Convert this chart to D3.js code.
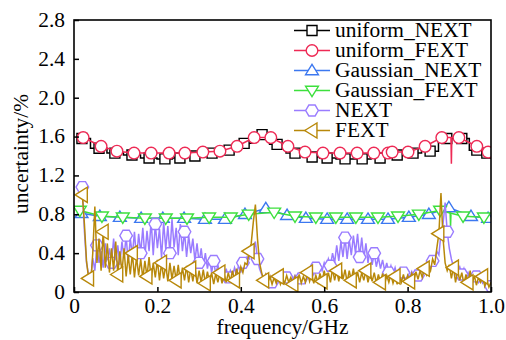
<!DOCTYPE html>
<html><head><meta charset="utf-8">
<script src="https://cdn.jsdelivr.net/npm/d3@7"></script>
<style>
html,body{margin:0;padding:0;background:#fff;}
svg{display:block;}
text{font-family:"Liberation Serif","Times New Roman",serif;fill:#000;}
</style></head>
<body>
<svg id="chart" width="506" height="340"></svg>
<script>
// ---------------- data ----------------
const xTickValues = [0, 0.2, 0.4, 0.6, 0.8, 1.0];
const xTickLabels = ["0", "0.2", "0.4", "0.6", "0.8", "1.0"];
const yTickValues = [0, 0.4, 0.8, 1.2, 1.6, 2.0, 2.4, 2.8];
const yTickLabels = ["0", "0.4", "0.8", "1.2", "1.6", "2.0", "2.4", "2.8"];

const seriesNames = ["uniform_NEXT", "uniform_FEXT", "Gaussian_NEXT", "Gaussian_FEXT", "NEXT", "FEXT"];

// uniform_NEXT (black squares, step line)
const uniformNextFreq = [0.019,0.060,0.098,0.139,0.180,0.218,0.254,0.290,0.331,0.372,0.408,0.451,0.487,0.530,0.571,0.607,0.650,0.691,0.734,0.775,0.813,0.854,0.894,0.930,0.966,0.990];
const uniformNextVal  = [1.58,1.48,1.43,1.41,1.38,1.37,1.38,1.40,1.43,1.46,1.53,1.62,1.52,1.43,1.39,1.38,1.37,1.37,1.38,1.41,1.43,1.45,1.58,1.58,1.46,1.43];

// uniform_FEXT (red circles)
const uniformFextFreq = [0.022,0.065,0.103,0.144,0.185,0.228,0.266,0.309,0.350,0.391,0.432,0.472,0.513,0.554,0.597,0.638,0.679,0.719,0.753,0.763,0.801,0.842,0.882,0.923,0.966,0.993];
const uniformFextVal  = [1.59,1.50,1.45,1.43,1.43,1.43,1.43,1.44,1.45,1.50,1.59,1.59,1.50,1.44,1.43,1.43,1.43,1.43,1.43,1.44,1.44,1.50,1.59,1.59,1.50,1.44];
const uniformFextSpikeFreq = [0.904,0.905,0.906];
const uniformFextSpikeVal  = [1.59,1.32,1.59];

// Gaussian_NEXT (blue up-triangles)
const gaussNextFreq = [0.018,0.062,0.110,0.161,0.213,0.264,0.314,0.362,0.410,0.460,0.511,0.556,0.607,0.655,0.705,0.753,0.803,0.851,0.899,0.952,0.993];
const gaussNextVal  = [0.81,0.78,0.77,0.76,0.76,0.76,0.75,0.75,0.80,0.86,0.79,0.76,0.75,0.75,0.75,0.75,0.77,0.80,0.87,0.78,0.76];

// Gaussian_FEXT (green down-triangles)
const gaussFextFreq = [0.014,0.067,0.117,0.170,0.220,0.271,0.324,0.376,0.419,0.480,0.530,0.580,0.628,0.676,0.729,0.777,0.827,0.878,0.933,0.983];
const gaussFextVal  = [0.84,0.78,0.77,0.76,0.76,0.76,0.77,0.77,0.80,0.82,0.78,0.77,0.77,0.77,0.77,0.78,0.80,0.84,0.78,0.77];
const gaussFextSpikeFreq = [0.902,0.903,0.904];
const gaussFextSpikeVal  = [0.82,0.68,0.80];

// NEXT / FEXT (dense measured curves, 0.02 .. 1.00 GHz every 5 MHz)
const denseFreq = d3.range(197).map(i => +(0.02 + 0.005 * i).toFixed(3));
const nextVal = [
1.08,0.62,0.30,0.18,0.12,0.35,0.22,0.48,0.30,0.42,0.25,0.50,0.28,0.45,0.30,0.55,0.32,0.48,0.28,0.52,
0.35,0.58,0.30,0.55,0.38,0.62,0.33,0.60,0.40,0.66,0.36,0.63,0.42,0.74,0.38,0.70,0.45,0.65,0.35,0.72,
0.44,0.68,0.40,0.75,0.46,0.66,0.38,0.70,0.42,0.62,0.36,0.58,0.40,0.55,0.32,0.50,0.30,0.45,0.26,0.40,
0.24,0.36,0.20,0.32,0.18,0.28,0.16,0.26,0.14,0.24,0.15,0.22,0.16,0.25,0.18,0.28,0.20,0.30,0.26,0.36,
0.34,0.46,0.40,0.52,0.34,0.24,0.18,0.14,0.18,0.12,0.16,0.10,0.15,0.11,0.17,0.12,0.16,0.10,0.15,0.12,
0.18,0.13,0.17,0.12,0.19,0.14,0.20,0.15,0.22,0.16,0.24,0.18,0.25,0.20,0.28,0.22,0.30,0.24,0.34,0.27,
0.40,0.30,0.48,0.32,0.52,0.36,0.56,0.34,0.54,0.38,0.58,0.40,0.60,0.36,0.56,0.34,0.50,0.30,0.44,0.28,
0.40,0.26,0.36,0.24,0.33,0.22,0.30,0.20,0.27,0.18,0.25,0.16,0.22,0.15,0.20,0.14,0.19,0.15,0.21,0.16,
0.22,0.17,0.24,0.18,0.26,0.20,0.28,0.24,0.32,0.30,0.42,0.38,0.60,0.70,0.92,0.62,0.45,0.34,0.26,0.30,
0.22,0.26,0.18,0.24,0.15,0.20,0.13,0.18,0.12,0.16,0.10,0.14,0.09,0.12,0.08,0.10,0.06];
const fextVal = [
1.00,0.70,0.32,0.14,0.08,0.40,0.88,0.30,0.55,0.22,0.62,0.25,0.50,0.20,0.45,0.22,0.52,0.18,0.42,0.20,
0.45,0.16,0.38,0.18,0.40,0.15,0.36,0.17,0.34,0.14,0.32,0.16,0.36,0.13,0.30,0.15,0.33,0.12,0.30,0.14,
0.28,0.11,0.30,0.13,0.27,0.12,0.28,0.10,0.25,0.12,0.27,0.10,0.24,0.11,0.25,0.09,0.22,0.10,0.23,0.09,
0.21,0.10,0.20,0.08,0.19,0.10,0.20,0.09,0.18,0.10,0.20,0.11,0.22,0.12,0.24,0.15,0.26,0.20,0.30,0.28,
0.42,0.50,0.72,0.90,0.55,0.30,0.20,0.12,0.18,0.10,0.16,0.08,0.15,0.09,0.16,0.08,0.14,0.09,0.17,0.10,
0.15,0.08,0.16,0.10,0.18,0.09,0.16,0.10,0.20,0.11,0.18,0.09,0.17,0.10,0.19,0.11,0.22,0.12,0.20,0.10,
0.24,0.12,0.22,0.11,0.25,0.13,0.23,0.10,0.22,0.12,0.24,0.11,0.21,0.10,0.20,0.12,0.22,0.10,0.19,0.11,
0.20,0.09,0.18,0.10,0.19,0.08,0.17,0.10,0.18,0.09,0.16,0.08,0.17,0.10,0.18,0.09,0.17,0.11,0.19,0.12,
0.21,0.13,0.22,0.15,0.24,0.18,0.28,0.22,0.34,0.28,0.45,0.60,1.02,0.55,0.30,0.22,0.28,0.14,0.25,0.10,
0.22,0.12,0.20,0.08,0.18,0.10,0.22,0.09,0.17,0.07,0.15,0.10,0.16,0.06,0.12,0.05,0.10];

// ---------------- drawing ----------------
const PL = 74, PR = 491, PT = 20, PB = 292;
const x = d3.scaleLinear().domain([0, 1]).range([PL, PR]);
const y = d3.scaleLinear().domain([0, 2.8]).range([PB, PT]);

const colors = {
  uniform_NEXT: "#000000",
  uniform_FEXT: "#ee2a55",
  Gaussian_NEXT: "#3c78f0",
  Gaussian_FEXT: "#3de03d",
  NEXT: "#9a7cff",
  FEXT: "#b8880a"
};

const svg = d3.select("#chart");
svg.append("defs").append("clipPath").attr("id", "plotclip")
  .append("rect").attr("x", PL).attr("y", PT).attr("width", PR - PL).attr("height", PB - PT);

function symPath(kind, s) {
  switch (kind) {
    case "square": return `M${-s},${-s}H${s}V${s}H${-s}Z`;
    case "circle": return `M${s},0A${s},${s} 0 1,1 ${-s},0A${s},${s} 0 1,1 ${s},0Z`;
    case "up": return `M0,${-s*1.1}L${s*1.15},${s*0.75}L${-s*1.15},${s*0.75}Z`;
    case "down": return `M0,${s*1.1}L${s*1.15},${-s*0.75}L${-s*1.15},${-s*0.75}Z`;
    case "left": return `M${-s*1.1},0L${s*0.75},${-s*1.15}L${s*0.75},${s*1.15}Z`;
    case "hex": {
      const pts = d3.range(6).map(i => { const a = Math.PI / 3 * i; return [s * 1.05 * Math.cos(a), s * 1.05 * Math.sin(a)]; });
      return "M" + pts.map(p => p.join(",")).join("L") + "Z";
    }
  }
}

const plot = svg.append("g").attr("clip-path", "url(#plotclip)");

function drawSeries(name, fr, vals, kind, size, curve, markerIdx) {
  const pts = fr.map((f, i) => [f, vals[i]]);
  const line = d3.line().x(d => x(d[0])).y(d => y(d[1])).curve(curve);
  plot.append("path").datum(pts).attr("d", line)
    .attr("fill", "none").attr("stroke", colors[name]).attr("stroke-width", 1.5);
  const mk = markerIdx ? markerIdx.map(i => pts[i]) : pts;
  plot.append("g").selectAll("path").data(mk).join("path")
    .attr("transform", d => `translate(${x(d[0])},${y(d[1])})`)
    .attr("d", symPath(kind, size))
    .attr("fill", "#fff").attr("stroke", colors[name]).attr("stroke-width", 1.4);
}

function drawSpike(name, fr, vals) {
  const line = d3.line().x(d => x(d[0])).y(d => y(d[1]));
  plot.append("path").datum(fr.map((f, i) => [f, vals[i]])).attr("d", line)
    .attr("fill", "none").attr("stroke", colors[name]).attr("stroke-width", 1.5);
}

const symSize = { square: 5, circle: 5.8, up: 5.6, down: 5.6, hex: 6, left: 6.6 };

drawSeries("uniform_NEXT", uniformNextFreq, uniformNextVal, "square", symSize.square, d3.curveStep);
drawSeries("uniform_FEXT", uniformFextFreq, uniformFextVal, "circle", symSize.circle, d3.curveLinear);
drawSpike("uniform_FEXT", uniformFextSpikeFreq, uniformFextSpikeVal);
drawSeries("Gaussian_NEXT", gaussNextFreq, gaussNextVal, "up", symSize.up, d3.curveLinear);
drawSeries("Gaussian_FEXT", gaussFextFreq, gaussFextVal, "down", symSize.down, d3.curveLinear);
drawSpike("Gaussian_FEXT", gaussFextSpikeFreq, gaussFextSpikeVal);
const nextMarkers = d3.range(0, 197, 7);
const fextMarkers = [0].concat(d3.range(3, 197, 7));
drawSeries("NEXT", denseFreq, nextVal, "hex", symSize.hex, d3.curveLinear, nextMarkers);
drawSeries("FEXT", denseFreq, fextVal, "left", symSize.left, d3.curveLinear, fextMarkers);

// axes
const xAxis = d3.axisBottom(x).tickValues(xTickValues)
  .tickFormat((d, i) => xTickLabels[i]).tickSizeInner(-5).tickSizeOuter(0).tickPadding(7);
const gx = svg.append("g").attr("transform", `translate(0,${PB})`).call(xAxis);
const yAxis = d3.axisLeft(y).tickValues(yTickValues)
  .tickFormat((d, i) => yTickLabels[i]).tickSizeInner(-5).tickSizeOuter(0).tickPadding(9);
const gy = svg.append("g").attr("transform", `translate(${PL},0)`).call(yAxis);
[gx, gy].forEach(g => {
  g.select(".domain").remove();
  g.selectAll(".tick line").attr("stroke", "#000").attr("stroke-width", 1.5);
  g.selectAll(".tick text").style("font-family", '"Liberation Serif", serif').style("font-size", "20px").attr("fill", "#000");
});

// frame
svg.append("rect").attr("x", PL).attr("y", PT).attr("width", PR - PL).attr("height", PB - PT)
  .attr("fill", "none").attr("stroke", "#000").attr("stroke-width", 1.6);

// axis titles
svg.append("text").attr("x", (PL + PR) / 2).attr("y", 334).attr("text-anchor", "middle")
  .style("font-size", "20px").text("frequency/GHz");
svg.append("text").attr("transform", "translate(28,154) rotate(-90)").attr("text-anchor", "middle")
  .style("font-size", "20px").text("uncertainty/%");

// legend
const legendKinds = ["square", "circle", "up", "down", "hex", "left"];
const legendY = [30.5, 50.5, 70.5, 90.5, 110.5, 130.5];
const lg = svg.append("g");
seriesNames.forEach((name, i) => {
  const row = lg.append("g").attr("transform", `translate(0,${legendY[i]})`);
  row.append("line").attr("x1", 294).attr("x2", 330).attr("y1", 0).attr("y2", 0)
    .attr("stroke", colors[name]).attr("stroke-width", 1.5);
  row.append("path").attr("transform", "translate(312,0)").attr("d", symPath(legendKinds[i], symSize[legendKinds[i]]))
    .attr("fill", "#fff").attr("stroke", colors[name]).attr("stroke-width", 1.4);
  row.append("text").attr("class", "lgtext").attr("x", 335).attr("y", 6.5).style("font-size", "20px").text(name);
});

// the reference glyphs are slightly wider than the font's natural width
svg.selectAll("text").each(function () {
  const w = this.getComputedTextLength();
  if (w > 0) d3.select(this).attr("textLength", (w * 1.07).toFixed(1)).attr("lengthAdjust", "spacingAndGlyphs");
});
</script>
</body></html>
